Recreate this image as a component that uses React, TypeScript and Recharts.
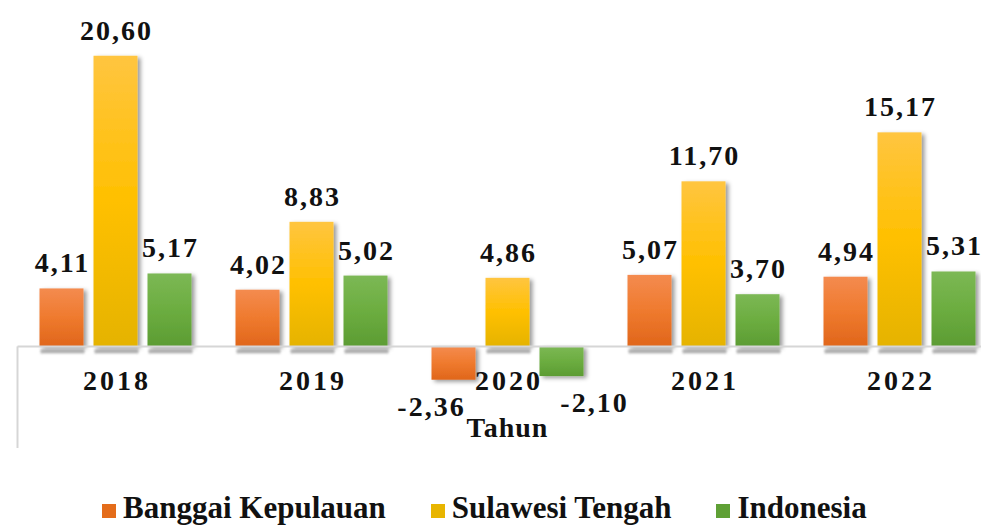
import React from 'react';
import { BarChart, Bar, XAxis, YAxis, ReferenceLine, LabelList } from 'recharts';

const years = ['2018', '2019', '2020', '2021', '2022'];
const banggai = [4.11, 4.02, -2.36, 5.07, 4.94];
const sulteng = [20.6, 8.83, 4.86, 11.7, 15.17];
const indonesia = [5.17, 5.02, -2.1, 3.7, 5.31];
const seriesNames = ['Banggai Kepulauan', 'Sulawesi Tengah', 'Indonesia'];
const seriesKeys = ['banggai', 'sulteng', 'indonesia'];
const axisTitle = 'Tahun';

const data = years.map((y, i) => ({
  year: y,
  banggai: banggai[i],
  sulteng: sulteng[i],
  indonesia: indonesia[i],
}));

const gradIds = ['gOrange', 'gYellow', 'gGreen'];
const legendColors = ['#e46c1a', '#e8b500', '#5fa035'];
const negShifts = [-23, 0, 32];

const FONT = '"Liberation Serif", "Times New Roman", serif';

const labelStyle: React.CSSProperties = {
  fontFamily: FONT,
  fontWeight: 'bold',
  fontSize: 28,
  letterSpacing: 2,
  fill: '#111',
};

const fmt = (v: number) => v.toFixed(2).replace('.', ',');

const makeLabel = (negShift: number) => (props: any) => {
  const vb = props.viewBox && props.viewBox.x !== undefined ? props.viewBox : props;
  const x = Number(vb.x);
  const y = Number(vb.y);
  const width = Number(vb.width);
  const height = Number(vb.height);
  const v = Number(props.value);
  const top = Math.min(y, y + height);
  const bottom = Math.max(y, y + height);
  const cx = x + width / 2 + 1;
  if (v >= 0) {
    return (
      <text x={cx} y={top - 16} textAnchor="middle" fontFamily={FONT} style={labelStyle}>
        {fmt(v)}
      </text>
    );
  }
  return (
    <text x={cx + negShift} y={bottom + 36} textAnchor="middle" fontFamily={FONT} style={labelStyle}>
      {fmt(v)}
    </text>
  );
};

const makeShape = (gid: string) => (props: any) => {
  const x = Number(props.x);
  const y = Number(props.y);
  const w = Number(props.width);
  const h = Number(props.height);
  const top = Math.min(y, y + h);
  const hh = Math.abs(h);
  const positive = h >= 0;
  return (
    <g>
      {positive && (
        <rect x={x + 1} y={top + hh + 3} width={w} height={4} fill="#777" opacity={0.55} filter="url(#blurSmall)" />
      )}
      <rect x={x} y={top} width={w} height={hh} fill={`url(#${gid})`} filter="url(#shadow)" />
    </g>
  );
};

const YearTick = (props: any) => {
  const { x, y, payload } = props;
  return (
    <text
      x={Number(x) + 1.5}
      y={Number(y) - 58}
      textAnchor="middle"
      fontFamily={FONT}
      style={{ ...labelStyle, letterSpacing: 3 }}
    >
      {payload.value}
    </text>
  );
};

const TahunLabel = (props: any) => {
  const vb = props.viewBox || {};
  return (
    <text
      x={vb.x + vb.width / 2}
      y={vb.y - 11}
      textAnchor="middle"
      fontFamily={FONT}
      style={{ ...labelStyle, fontSize: 28, letterSpacing: 1 }}
    >
      {axisTitle}
    </text>
  );
};

export default function App() {
  return (
    <div style={{ position: 'absolute', left: 0, top: 0, width: 981, height: 527, overflow: 'hidden', background: '#fff' }}>
      <BarChart
        width={1000}
        height={527}
        data={data}
        margin={{ top: 36, right: 2.5, left: 17.5, bottom: 78 }}
        barSize={44}
        barGap={10}
      >
        <defs>
          <linearGradient id="gOrange" x1="0" y1="0" x2="0" y2="1">
            <stop offset="0%" stopColor="#f48b4f" />
            <stop offset="50%" stopColor="#ef7a2e" />
            <stop offset="100%" stopColor="#e0661b" />
          </linearGradient>
          <linearGradient id="gYellow" x1="0" y1="0" x2="0" y2="1">
            <stop offset="0%" stopColor="#ffc540" />
            <stop offset="50%" stopColor="#ffc000" />
            <stop offset="100%" stopColor="#e5b300" />
          </linearGradient>
          <linearGradient id="gGreen" x1="0" y1="0" x2="0" y2="1">
            <stop offset="0%" stopColor="#7cb855" />
            <stop offset="50%" stopColor="#6cad40" />
            <stop offset="100%" stopColor="#5c9c33" />
          </linearGradient>
          <filter id="shadow" x="-20%" y="-20%" width="150%" height="150%">
            <feDropShadow dx="3" dy="2" stdDeviation="2" floodColor="#000" floodOpacity="0.4" />
          </filter>
          <filter id="blurSmall" x="-20%" y="-100%" width="140%" height="300%">
            <feGaussianBlur stdDeviation="1.2" />
          </filter>
        </defs>
        <XAxis
          dataKey="year"
          height={1}
          axisLine={false}
          tickLine={false}
          tickSize={0}
          tickMargin={0}
          interval={0}
          tick={<YearTick />}
          label={<TahunLabel />}
        />
        <YAxis hide domain={[-7.2, 22]} />
        <ReferenceLine y={0} stroke="#d6d6d6" strokeWidth={2} />
        <ReferenceLine
          segment={[{ x: '2018', y: 0 }, { x: '2018', y: -7.2 }]}
          position="start"
          stroke="#d6d6d6"
          strokeWidth={2}
        />
        {seriesKeys.map((k, i) => (
          <Bar
            key={k}
            dataKey={k}
            name={seriesNames[i]}
            isAnimationActive={false}
            shape={makeShape(gradIds[i])}
          >
            <LabelList dataKey={k} content={makeLabel(negShifts[i])} />
          </Bar>
        ))}
      </BarChart>
      <div
        style={{
          position: 'absolute',
          top: 491,
          left: 102,
          display: 'flex',
          alignItems: 'center',
          fontFamily: FONT,
          fontWeight: 'bold',
          fontSize: 31,
          lineHeight: '34px',
          color: '#111',
          whiteSpace: 'nowrap',
        }}
      >
        {seriesNames.map((n, i) => (
          <div key={n} style={{ display: 'flex', alignItems: 'center', marginRight: 45 }}>
            <span style={{ display: 'inline-block', width: 14, height: 14, background: legendColors[i], marginRight: 7, marginTop: 6 }} />
            <span>{n}</span>
          </div>
        ))}
      </div>
    </div>
  );
}
